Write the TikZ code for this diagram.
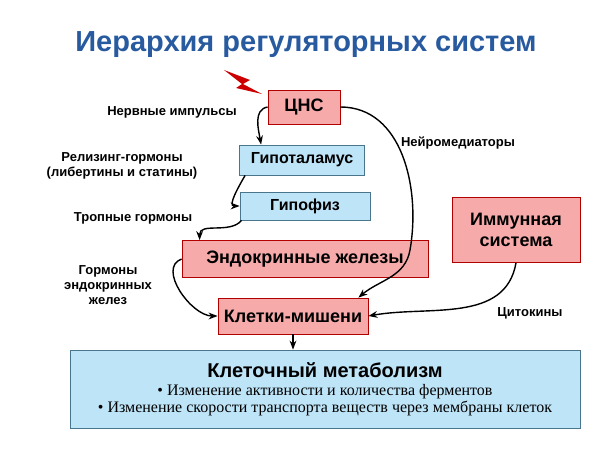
\documentclass[tikz,border=0pt]{standalone}
\usepackage{fontspec}
\setmainfont{Liberation Sans}
\newfontfamily\serifcyr{Liberation Serif}
\usetikzlibrary{arrows.meta}
\usetikzlibrary{calc}
\definecolor{pinkbox}{RGB}{246,170,170}
\definecolor{bluebox}{RGB}{190,228,248}
\definecolor{titleblue}{RGB}{40,90,160}

\begin{document}
\begin{tikzpicture}[x=1pt, y=-1pt, thick,
    pinkb/.style = {draw=red!70!black, fill=pinkbox, line width=0.8pt, font=\bfseries\fontsize{18}{21}\selectfont, inner sep=3pt},
    blueb/.style = {draw=cyan!50!black, fill=bluebox, line width=0.8pt, font=\bfseries\fontsize{16}{18}\selectfont},
    lbl/.style = {font=\bfseries\fontsize{13}{15}\selectfont, align=center},
    arr/.style = {-{Stealth[length=9pt]}, line width=1.4pt}]
    \useasboundingbox (0,0) rectangle (610,457);

    \node [font=\bfseries\fontsize{29}{32}\selectfont, text=titleblue] (title) at (306,45) {Иерархия регуляторных систем};

    % boxes
    \node [pinkb, minimum width=72, minimum height=34] (cns) at (304,107) {ЦНС};
    \node [blueb, minimum width=125, minimum height=30] (hyp) at (302,160) {Гипоталамус};
    \node [blueb, minimum width=130, minimum height=28] (pit) at (305,206) {Гипофиз};
    \node [pinkb, minimum width=246, minimum height=37] (endo) at (305,259) {Эндокринные железы};
    \node [pinkb, minimum width=150, minimum height=36] (target) at (293,316) {Клетки-мишени};
    \node [pinkb, minimum width=128, minimum height=65, align=center] (immune) at (516,230) {Иммунная\\система};
    \node [draw=cyan!50!black, fill=bluebox, line width=0.8pt, minimum width=510, minimum height=78, align=center] (metab) at (325,389)
        {{\bfseries\fontsize{20}{22}\selectfont Клеточный метаболизм}\\[6pt]
         {\serifcyr\fontsize{16}{19}\selectfont • Изменение активности и количества ферментов}\\[1pt]
         {\serifcyr\fontsize{16}{19}\selectfont • Изменение скорости транспорта веществ через мембраны клеток}};

    % lightning
    \fill [red!80!black] (224,70) -- (250,80) -- (243,84) -- (262,94) -- (236,88) -- (242,84) -- cycle;

    % labels
    \node [lbl] (l1) at (172,112) {Нервные импульсы};
    \node [lbl] (l2) at (122,166) {Релизинг-гормоны\\(либертины и статины)};
    \node [lbl] (l3) at (133,218) {Тропные гормоны};
    \node [lbl] (l4) at (108,285) {Гормоны\\эндокринных\\желез};
    \node [lbl] (l5) at (458,143) {Нейромедиаторы};
    \node [lbl] (l6) at (530,313) {Цитокины};

    % arrows
    \draw [arr] (cns.west) to[out=190, in=100] ($(hyp.north west)+(22,0)$);
    \draw [arr] ($(hyp.south west)+(6,0)$) to[out=240, in=180] (pit.west);
    \draw [arr] ($(pit.south west)+(2,0)$) to[out=230, in=90] ($(endo.north west)+(18,0)$);
    \draw [arr] (endo.west) to[out=200, in=180] (target.west);
    \draw [arr] (cns.east) to[out=0, in=80] (410,250) to[out=260, in=40] ($(target.north east)+(-10,0)$);
    \draw [arr] (immune.south) to[out=260, in=10] (target.east);
    \draw [arr] (target.south) -- (metab.north -| target.south);
\end{tikzpicture}
\end{document}
